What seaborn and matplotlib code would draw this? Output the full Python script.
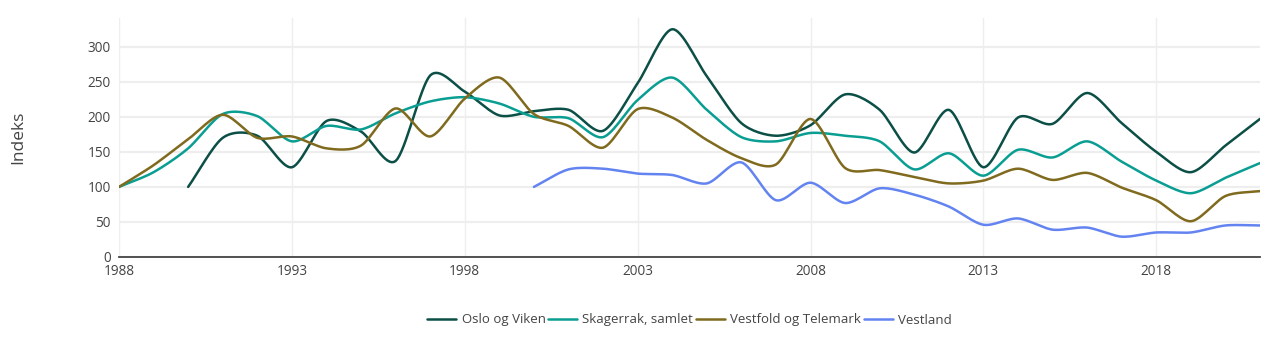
import numpy as np
import pandas as pd
import matplotlib
matplotlib.use("Agg")
import matplotlib.pyplot as plt
import seaborn as sns

years = list(range(1988, 2022))

oslo_viken = [None, None, 100, 170, 173, 128, 194, 179, 137, 259, 236, 202, 208, 210, 180, 248,
              325, 258, 191, 173, 188, 232, 210, 149, 210, 128, 199, 190, 234, 191, 150, 121, 159, 197]
skagerrak = [100, 121, 155, 204, 201, 165, 187, 182, 205, 222, 228, 219, 200, 198, 171, 224,
             256, 210, 171, 165, 177, 173, 165, 125, 148, 116, 153, 142, 165, 136, 109, 91, 113, 134]
vestfold_telemark = [100, 131, 168, 203, 170, 172, 155, 159, 212, 172, 226, 256, 204, 187, 156, 211,
                     199, 167, 141, 132, 197, 127, 124, 114, 105, 109, 126, 110, 120, 99, 81, 51, 87, 94]
vestland = [None] * 12 + [100, 125, 126, 119, 117, 105, 135, 81, 106, 77, 98, 89, 72, 46, 55, 39, 42,
                          29, 35, 35, 45, 45]

series_names = ["Oslo og Viken", "Skagerrak, samlet", "Vestfold og Telemark", "Vestland"]
series_values = [oslo_viken, skagerrak, vestfold_telemark, vestland]
colors = ["#0b4f46", "#0a9e93", "#7f6a1e", "#6384f0"]

x_ticks = [1988, 1993, 1998, 2003, 2008, 2013, 2018]


def smooth(xs, ys, n=16, tension=0.42):
    """Cardinal spline through data points (visual line shape only)."""
    xs = np.asarray(xs, float)
    ys = np.asarray(ys, float)
    if len(xs) < 3:
        return xs, ys
    px = np.concatenate([[2 * xs[0] - xs[1]], xs, [2 * xs[-1] - xs[-2]]])
    py = np.concatenate([[2 * ys[0] - ys[1]], ys, [2 * ys[-1] - ys[-2]]])
    outx, outy = [], []
    t = np.linspace(0, 1, n, endpoint=False)
    for i in range(1, len(px) - 2):
        m1x = tension * (px[i + 1] - px[i - 1]); m2x = tension * (px[i + 2] - px[i])
        m1y = tension * (py[i + 1] - py[i - 1]); m2y = tension * (py[i + 2] - py[i])
        h00 = 2 * t**3 - 3 * t**2 + 1; h10 = t**3 - 2 * t**2 + t
        h01 = -2 * t**3 + 3 * t**2; h11 = t**3 - t**2
        outx.append(h00 * px[i] + h10 * m1x + h01 * px[i + 1] + h11 * m2x)
        outy.append(h00 * py[i] + h10 * m1y + h01 * py[i + 1] + h11 * m2y)
    outx.append([xs[-1]]); outy.append([ys[-1]])
    return np.concatenate(outx), np.concatenate(outy)


frames = []
for name, vals in zip(series_names, series_values):
    xs = [y for y, v in zip(years, vals) if v is not None]
    vs = [v for v in vals if v is not None]
    sx, sy = smooth(xs, vs)
    frames.append(pd.DataFrame({"År": sx, "Indeks": sy, "Serie": name}))
df = pd.concat(frames, ignore_index=True)

sns.set_theme(style="white")
plt.rcParams["font.family"] = ["Open Sans", "DejaVu Sans"]

fig = plt.figure(figsize=(12.8, 3.48), dpi=100)
ax = fig.add_axes([119 / 1280, 1 - 257 / 348, (1260 - 119) / 1280, (257 - 18) / 348])

sns.lineplot(data=df, x="År", y="Indeks", hue="Serie", hue_order=series_names,
             palette=colors, linewidth=1.8, sort=False, estimator=None, ax=ax, legend=True)

ax.set_xlim(1988, 2021)
ax.set_ylim(0, 341)
ax.set_xticks(x_ticks)
ax.set_yticks([0, 50, 100, 150, 200, 250, 300])
ax.grid(True, axis="y", color="#eeeeee", linewidth=1.6)
ax.grid(True, axis="x", color="#eeeeee", linewidth=1.0)
ax.set_axisbelow(True)
for s in ["top", "right", "left"]:
    ax.spines[s].set_visible(False)
ax.spines["bottom"].set_color("#444444")
ax.spines["bottom"].set_linewidth(1.3)
ax.tick_params(axis="both", length=0, labelsize=9.8, labelcolor="#444444")
ax.tick_params(axis="x", pad=5)
ax.tick_params(axis="y", pad=6)
for lbl in ax.get_yticklabels():
    lbl.set_verticalalignment("center_baseline")
ax.set_xlabel("")
ax.set_ylabel("Indeks", fontsize=12.5, color="#444444", labelpad=44)

handles, labels = ax.get_legend_handles_labels()
ax.legend(handles, labels, loc="center", bbox_to_anchor=(0.5, (348 - 320) / 348),
          bbox_transform=matplotlib.transforms.blended_transform_factory(ax.transAxes, fig.transFigure),
          ncol=4, frameon=False, fontsize=9.5,
          handlelength=2.2, handletextpad=0.4, columnspacing=0.2, labelcolor="#444444")

fig.savefig("out.png", dpi=100)
